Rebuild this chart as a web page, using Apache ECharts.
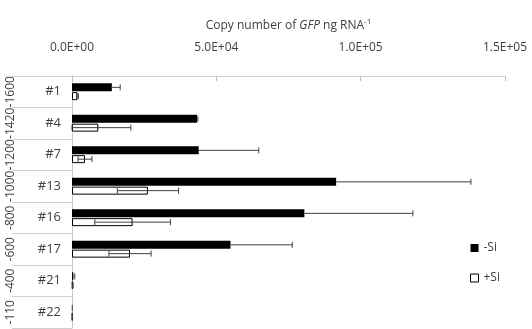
<!DOCTYPE html>
<html>
<head>
<meta charset="utf-8">
<script src="https://cdn.jsdelivr.net/npm/echarts@6/dist/echarts.min.js"></script>
<style>
  html, body { margin: 0; padding: 0; background: #fff; }
  #main { width: 532px; height: 329px; }
</style>
</head>
<body>
<div id="main"></div>
<script>
// 数据
var lines = ['#1', '#4', '#7', '#13', '#16', '#17', '#21', '#22'];
var promoters = ['-1600', '-1420', '-1200', '-1000', '-800', '-600', '-400', '-110'];
var xTicks = [0, 50000, 100000, 150000];
var minusSi = [13800, 43300, 43900, 91500, 80500, 54900, 450, 50];
var minusSiErr = [2900, 300, 20800, 46700, 37600, 21400, 500, 30];
var plusSi = [1900, 9100, 4500, 26300, 21000, 20100, 250, 150];
var plusSiErr = [300, 11300, 2400, 10600, 13100, 7300, 150, 50];

var BAR_W = 8;
var GAP = 0.8;

function sci(v) { // 0.0E+00 格式
    if (v === 0) return '0.0E+00';
    var e = Math.floor(Math.log10(Math.abs(v)));
    var m = v / Math.pow(10, e);
    return m.toFixed(1) + 'E' + (e < 0 ? '-' : '+') + (Math.abs(e) < 10 ? '0' : '') + Math.abs(e);
}

function errData(vals, errs) {
    return vals.map(function (v, i) { return [i, v, errs[i]]; });
}

// 误差线 (黑色柱内的下半段看不见, 不画)
function errRender(offset, both) {
    return function (params, api) {
        var idx = api.value(0);
        var v = api.value(1), e = api.value(2);
        var lo = api.coord([both ? Math.max(0, v - e) : v, idx]);
        var hi = api.coord([v + e, idx]);
        var y = lo[1] + offset;
        var cap = 3;
        var style = { stroke: '#404040', lineWidth: 1 };
        var kids = [
            { type: 'line', shape: { x1: lo[0], y1: y, x2: hi[0], y2: y }, style: style },
            { type: 'line', shape: { x1: hi[0], y1: y - cap, x2: hi[0], y2: y + cap }, style: style }
        ];
        if (both) {
            kids.push({ type: 'line', shape: { x1: lo[0], y1: y - cap, x2: lo[0], y2: y + cap }, style: style });
        }
        return { type: 'group', children: kids };
    };
}

var chart = echarts.init(document.getElementById('main'));
var option = {
    animation: false,
    textStyle: { fontFamily: 'Open Sans' },
    grid: { left: 72, right: 27, top: 76, bottom: 1 },
    legend: {
        orient: 'vertical',
        left: 465,
        top: 237,
        itemWidth: 8,
        itemHeight: 8,
        itemGap: 18,
        textStyle: { fontSize: 12, color: '#404040' },
        data: [
            { name: '-Si', icon: 'rect' },
            { name: '+Si', icon: 'rect', itemStyle: { borderWidth: 1 } }
        ]
    },
    xAxis: {
        type: 'value',
        position: 'top',
        min: xTicks[0],
        max: xTicks[xTicks.length - 1],
        interval: xTicks[1] - xTicks[0],
        name: 'Copy number of {i|GFP} ng RNA{s|-1}',
        nameLocation: 'middle',
        nameGap: 43,
        nameTextStyle: {
            fontSize: 12,
            color: '#404040',
            rich: {
                i: { fontStyle: 'italic', fontSize: 12, color: '#404040' },
                s: { fontSize: 8, color: '#404040', padding: [0, 0, 7, 0] }
            }
        },
        axisLine: { show: true, lineStyle: { color: '#d0d0d0' } },
        axisTick: { show: true, inside: true, length: 5, lineStyle: { color: '#c0c0c0' } },
        axisLabel: { formatter: sci, fontSize: 12, color: '#404040', margin: 22 },
        splitLine: { show: false }
    },
    yAxis: [{
        type: 'category',
        data: lines,
        inverse: true,
        axisLine: { show: true, lineStyle: { color: '#c8c8c8' } },
        axisTick: { show: true, length: 60, lineStyle: { color: '#d0d0d0' } },
        axisLabel: { fontSize: 13, color: '#404040', margin: 11 }
    }, {
        type: 'category',
        data: promoters,
        inverse: true,
        position: 'left',
        offset: 51,
        axisLine: { show: false },
        axisTick: { show: false },
        axisLabel: { rotate: 90, interval: 0, fontSize: 12, color: '#404040', margin: 4 }
    }],
    series: [{
        name: '-Si',
        type: 'bar',
        data: minusSi,
        barWidth: BAR_W,
        barGap: '10%',
        itemStyle: { color: '#000' }
    }, {
        name: '+Si',
        type: 'bar',
        data: plusSi,
        barWidth: BAR_W,
        barGap: '10%',
        itemStyle: { color: '#fff', borderColor: '#000', borderWidth: 1 }
    }, {
        type: 'custom',
        renderItem: errRender(-(BAR_W + GAP) / 2, false),
        data: errData(minusSi, minusSiErr),
        encode: { x: 1, y: 0 },
        z: 5
    }, {
        type: 'custom',
        renderItem: errRender((BAR_W + GAP) / 2, true),
        data: errData(plusSi, plusSiErr),
        encode: { x: 1, y: 0 },
        z: 5
    }]
};
chart.setOption(option);
</script>
</body>
</html>
